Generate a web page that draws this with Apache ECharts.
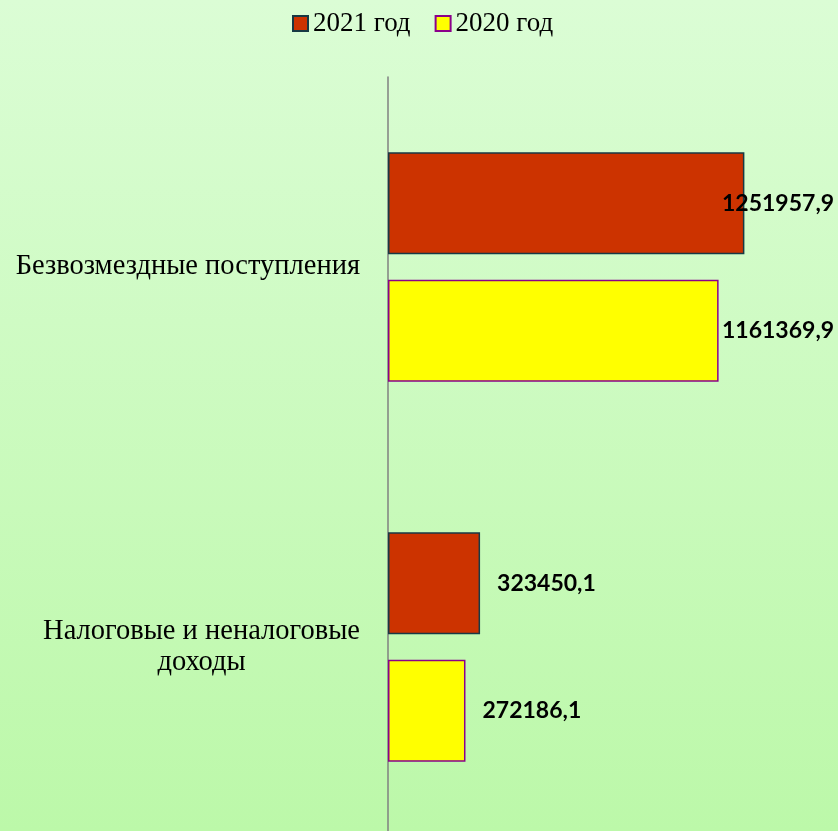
<!DOCTYPE html>
<html>
<head>
<meta charset="utf-8">
<script src="https://cdn.jsdelivr.net/npm/echarts@6/dist/echarts.min.js"></script>
<style>
  html, body { margin: 0; padding: 0; }
  #chart {
    width: 838px; height: 831px;
    background: linear-gradient(to bottom, #dbfdd5 0%, #bcf8a9 100%);
  }
</style>
</head>
<body>
<div id="chart"></div>
<script>
// categories top to bottom
const categories = ['Безвозмездные поступления', 'Налоговые и неналоговые\nдоходы'];
const values2021 = [1251957.9, 323450.1];
const values2020 = [1161369.9, 272186.1];
const seriesNames = ['2021 год', '2020 год'];

const chart = echarts.init(document.getElementById('chart'), null, { renderer: 'canvas' });

const fmt = v => String(v.toFixed(1)).replace('.', ',');
const AXIS_MAX = 1500000;
const GRID_W = 427;

// keep big labels inside the plot, like the original
function labelFor(v) {
    const barEnd = v / AXIS_MAX * GRID_W;
    if (barEnd > GRID_W - 130) {
        return { position: 'insideLeft', offset: [329, 0] };
    }
    return { position: 'right', distance: 17 };
}

const labelStyle = {
    show: true,
    color: '#000',
    fontFamily: 'Lato',
    fontWeight: 'bold',
    fontSize: 23,
    formatter: p => fmt(p.value),
};

chart.setOption({
    backgroundColor: 'transparent',
    animation: false,
    legend: {
        top: 5,
        left: 287,
        itemWidth: 15,
        itemHeight: 15,
        itemGap: 24,
        icon: 'rect',
        textStyle: { fontFamily: 'Liberation Serif', fontSize: 27, color: '#000' },
        data: seriesNames,
    },
    grid: { left: 388, top: 77, width: GRID_W, height: 760, containLabel: false, outerBoundsMode: 'none' },
    xAxis: {
        type: 'value',
        min: 0,
        max: AXIS_MAX,
        show: false,
    },
    yAxis: {
        type: 'category',
        inverse: true,
        data: categories,
        axisLine: { show: true, lineStyle: { color: '#808080', width: 1.5 } },
        axisTick: { show: false },
        axisLabel: {
            margin: 28,
            align: 'right',
            fontFamily: 'Liberation Serif',
            fontSize: 28.5,
            color: '#000',
            lineHeight: 31,
            formatter: v => v.split('\n').map(s => '{c|' + s + '}').join('\n'),
            rich: { c: { align: 'center', fontFamily: 'Liberation Serif', fontSize: 28.5, lineHeight: 31, color: '#000' } },
        },
    },
    series: [
        {
            name: seriesNames[0],
            type: 'bar',
            barWidth: 102,
            barGap: '25%',
            itemStyle: { color: '#cc3300', borderColor: '#173a44', borderWidth: 1.5 },
            label: labelStyle,
            data: values2021.map(v => ({ value: v, label: labelFor(v) })),
        },
        {
            name: seriesNames[1],
            type: 'bar',
            barWidth: 102,
            barGap: '25%',
            itemStyle: { color: '#ffff00', borderColor: '#8b008b', borderWidth: 1.5 },
            label: labelStyle,
            data: values2020.map(v => ({ value: v, label: labelFor(v) })),
        },
    ],
});
</script>
</body>
</html>
